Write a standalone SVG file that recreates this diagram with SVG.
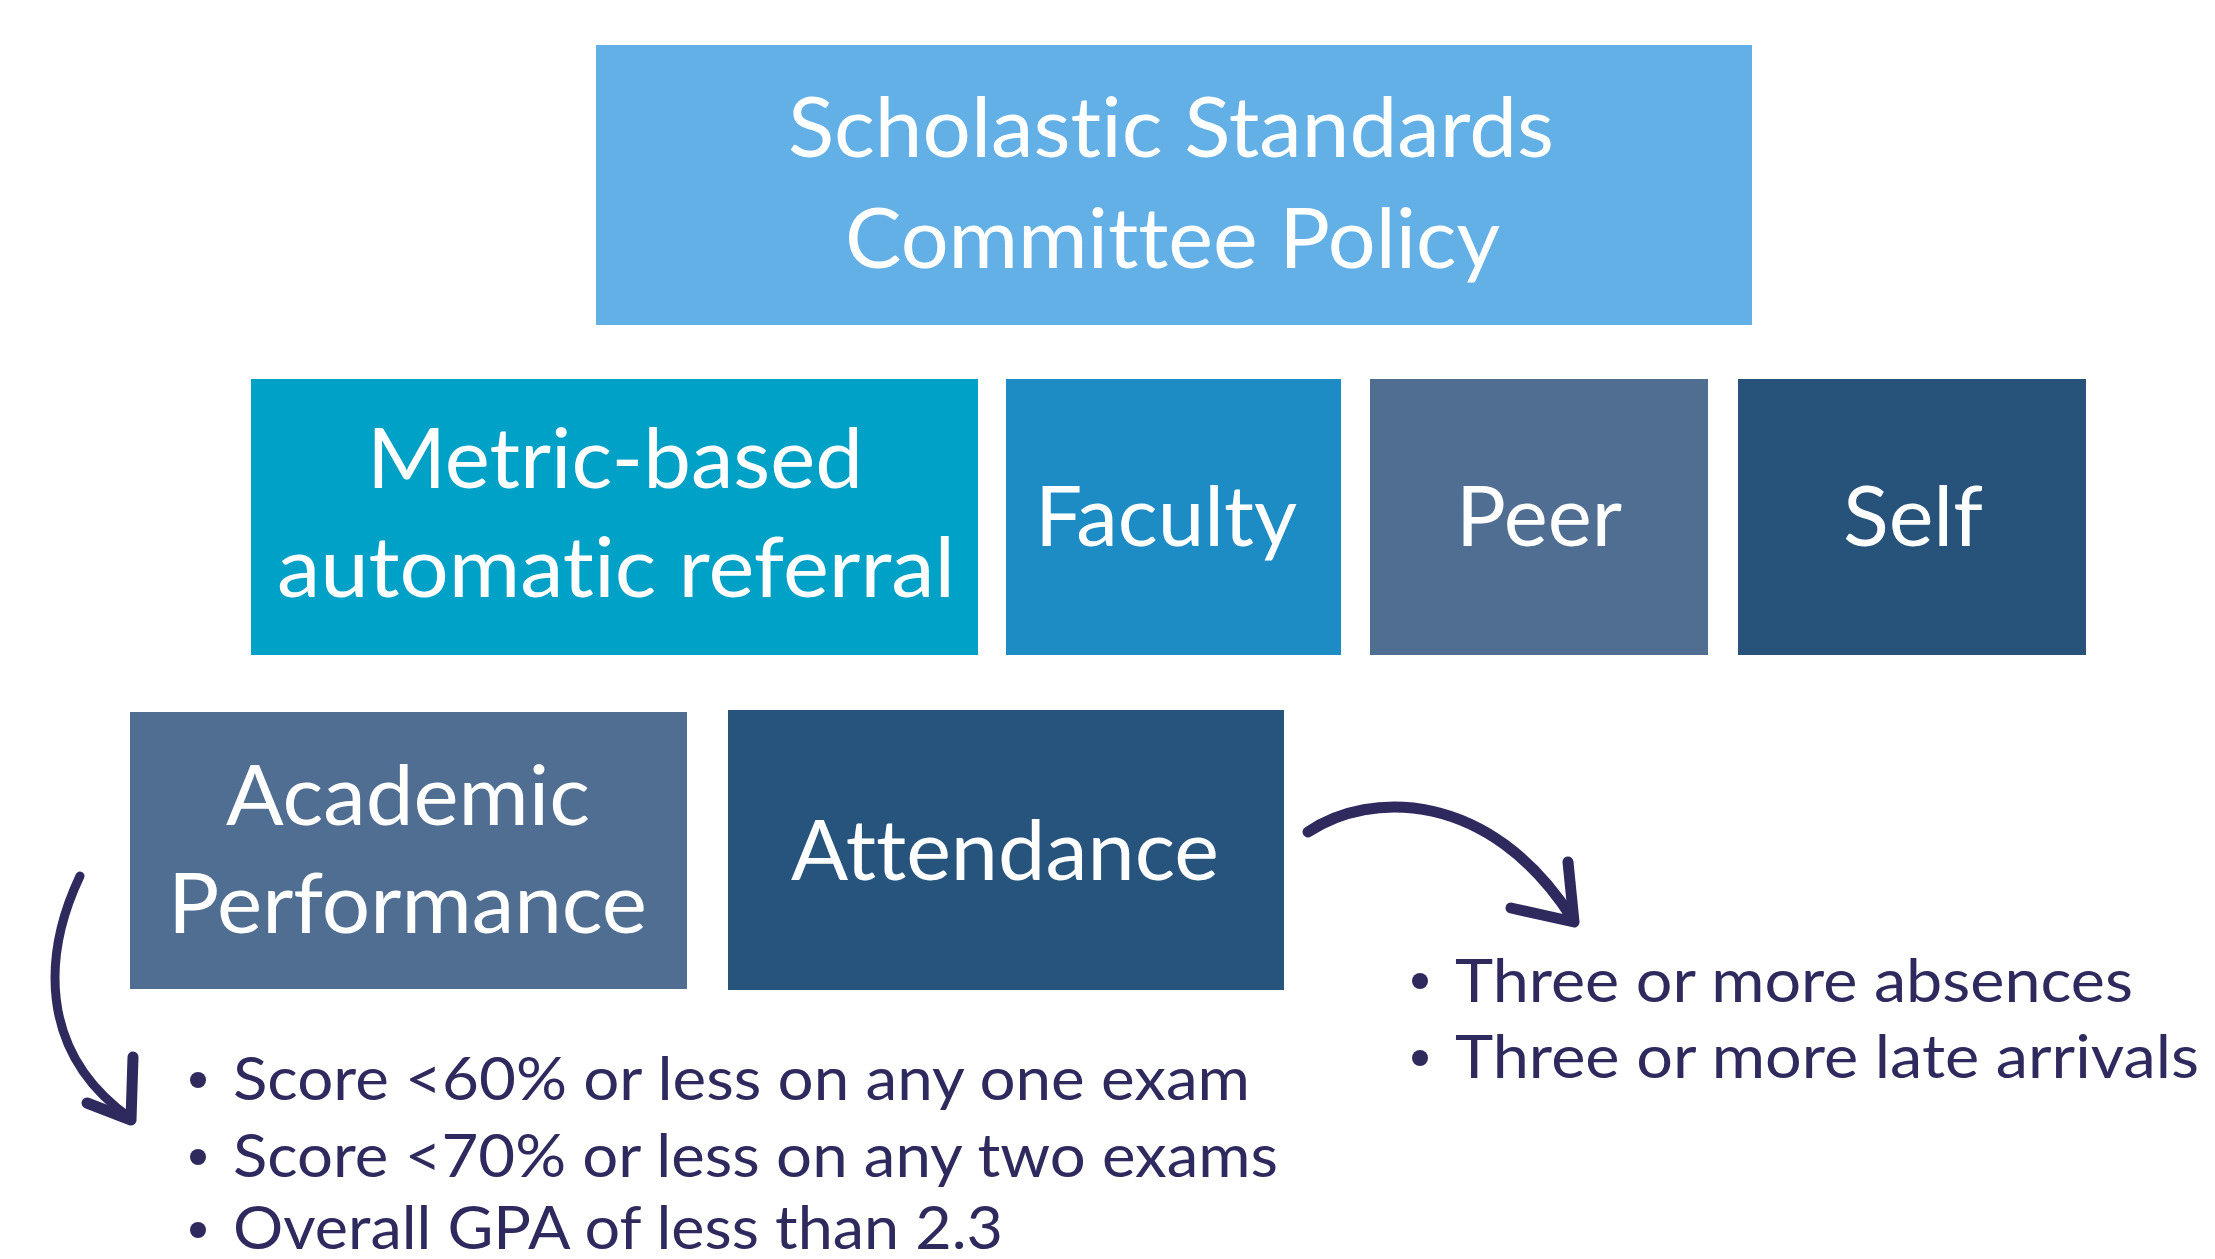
<svg xmlns="http://www.w3.org/2000/svg" width="2215" height="1259" viewBox="0 0 2215 1259">
<style>
.box text{font-family:Lato,"Open Sans","Liberation Sans",sans-serif;fill:#ffffff;font-size:84px;font-variant-ligatures:none;font-feature-settings:"liga" 0}
.bul text{font-family:Lato,"Open Sans","Liberation Sans",sans-serif;fill:#2e2a5e;font-size:60px;font-variant-ligatures:none;font-feature-settings:"liga" 0}
.arr path{fill:none;stroke:#2e2a5e;stroke-linecap:round;stroke-linejoin:round}
.dot{fill:#2e2a5e}
</style>
<rect width="2215" height="1259" fill="#ffffff"/>
<g id="node-policy" class="box">
<rect x="596" y="45" width="1156" height="280" fill="#62b0e5"/>
<text x="788" y="157" textLength="766" lengthAdjust="spacingAndGlyphs">Scholastic Standards</text>
<text x="845" y="268" textLength="655" lengthAdjust="spacingAndGlyphs">Committee Policy</text>
</g>
<g id="node-metric" class="box">
<rect x="251" y="379" width="727" height="276" fill="#00a1c7"/>
<text x="367" y="488" textLength="496" lengthAdjust="spacingAndGlyphs">Metric-based</text>
<text x="277" y="597" textLength="678" lengthAdjust="spacingAndGlyphs">automatic referral</text>
</g>
<g id="node-faculty" class="box">
<rect x="1006" y="379" width="335" height="276" fill="#1e8cc4"/>
<text x="1035" y="546" textLength="262" lengthAdjust="spacingAndGlyphs">Faculty</text>
</g>
<g id="node-peer" class="box">
<rect x="1370" y="379" width="338" height="276" fill="#4f6e91"/>
<text x="1456" y="546" textLength="166" lengthAdjust="spacingAndGlyphs">Peer</text>
</g>
<g id="node-self" class="box">
<rect x="1738" y="379" width="348" height="276" fill="#27537b"/>
<text x="1843" y="546" textLength="140" lengthAdjust="spacingAndGlyphs">Self</text>
</g>
<g id="node-academic" class="box">
<rect x="130" y="712" width="557" height="277" fill="#4f6e91"/>
<text x="226" y="825" textLength="364" lengthAdjust="spacingAndGlyphs">Academic</text>
<text x="168" y="933" textLength="479" lengthAdjust="spacingAndGlyphs">Performance</text>
</g>
<g id="node-attendance" class="box">
<rect x="728" y="710" width="556" height="280" fill="#27547d"/>
<text x="791" y="880" textLength="428" lengthAdjust="spacingAndGlyphs">Attendance</text>
</g>
<g id="list-academic" class="bul">
<circle class="dot" cx="198" cy="1080" r="8"/>
<circle class="dot" cx="198" cy="1157" r="8"/>
<circle class="dot" cx="198" cy="1230" r="8"/>
<text x="233" y="1100" textLength="1017" lengthAdjust="spacingAndGlyphs">Score &lt;60% or less on any one exam</text>
<text x="233" y="1177" textLength="1045" lengthAdjust="spacingAndGlyphs">Score &lt;70% or less on any two exams</text>
<text x="233" y="1249" textLength="770" lengthAdjust="spacingAndGlyphs">Overall GPA of less than 2.3</text>
</g>
<g id="list-attendance" class="bul">
<circle class="dot" cx="1420" cy="981" r="8"/>
<circle class="dot" cx="1420" cy="1058" r="8"/>
<text x="1455" y="1002" textLength="678" lengthAdjust="spacingAndGlyphs">Three or more absences</text>
<text x="1455" y="1078" textLength="744" lengthAdjust="spacingAndGlyphs">Three or more late arrivals</text>
</g>
<g id="connectors" class="arr">
<path d="M80 876 C45 950 35 1050 130 1118" stroke-width="9"/>
<path d="M87 1103 L131 1120 L133 1057" stroke-width="11"/>
<path d="M1308 832 C1370 790 1490 790 1572 918" stroke-width="11"/>
<path d="M1511 908 L1574 922 L1568 862" stroke-width="11"/>
</g>
</svg>
